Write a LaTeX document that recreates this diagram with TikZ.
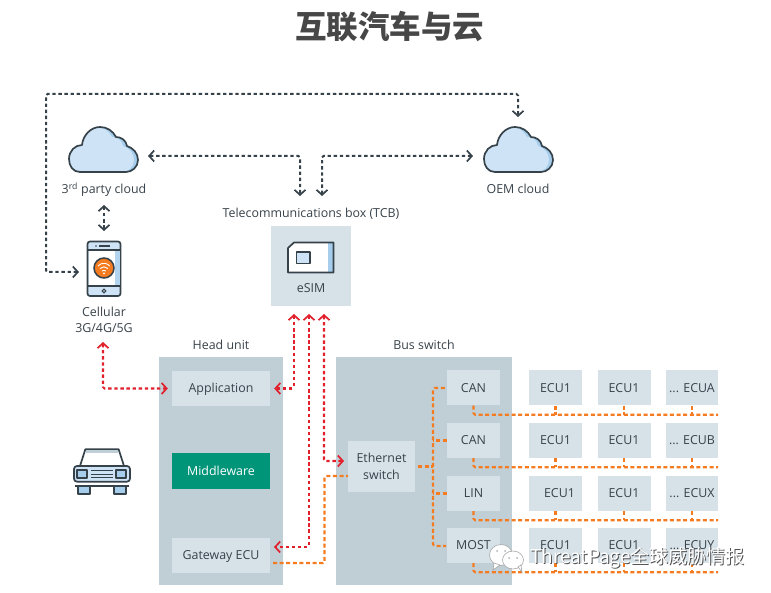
\documentclass[tikz,border=0pt]{standalone}
\usepackage{fontspec}
\setmainfont{Open Sans}
\newfontfamily\cjkfont{Noto Sans CJK SC}
\usetikzlibrary{arrows.meta,calc}
\definecolor{ink}{HTML}{36424A}
\definecolor{txt}{HTML}{38424A}
\definecolor{redline}{HTML}{E2202C}
\definecolor{orangeline}{HTML}{F47B20}
\definecolor{boxlight}{HTML}{D6E1E8}
\definecolor{boxdark}{HTML}{C0CFD6}
\definecolor{teal}{HTML}{009479}
\definecolor{skyfill}{HTML}{CFE3F6}
\definecolor{skydark}{HTML}{A6CEEC}
\tikzset{
  x=1pt,y=-1pt,
  lab/.style={font=\fontsize{12.4}{16.5}\selectfont,text=txt,align=center,inner sep=0},
  lightbox/.style={fill=boxlight,draw=none,inner sep=0,font=\fontsize{12.4}{16.5}\selectfont,text=txt,align=center,text height=11pt,text depth=3pt},
  panel/.style={fill=boxdark,draw=none,inner sep=0},
  chev/.tip={Straight Barb[length=5pt,width=11pt,line width=1.7pt]},
  conn/.style={line width=2pt,dash pattern=on 3.4pt off 2.7pt,rounded corners=1.5pt},
  blackline/.style={conn,draw=ink},
  redconn/.style={conn,draw=redline,line width=2.1pt},
  orangeconn/.style={conn,draw=orangeline,line width=2.1pt,dash pattern=on 4pt off 2.6pt},
  outline/.style={draw=ink,line width=1.7pt,line join=round},
}
\newcommand{\dd}{...}
\newcommand{\cloudpath}{(11,45) .. controls (4,45) and (0,39) .. (0,32) .. controls (0,24) and (6,18) .. (13,18) .. controls (14,8) and (22,0) .. (31,0) .. controls (38,0) and (44,4) .. (47,10) .. controls (52,10) and (57,13) .. (58,19) .. controls (64,21) and (69,26) .. (69,33) .. controls (69,40) and (63,45) .. (57,45) -- cycle}
\newcommand{\drawcloud}[2]{%
  \begin{scope}[shift={(#1,#2)}]
    \begin{scope}
      \clip \cloudpath;
      \fill[skydark] (-1,-1) rectangle (71,47);
      \begin{scope}[shift={(-4,0)}]
        \fill[skyfill] \cloudpath;
      \end{scope}
    \end{scope}
    \draw[outline] \cloudpath;
  \end{scope}}
\begin{document}
\begin{tikzpicture}
\useasboundingbox (0,0) rectangle (771,593);
\node[inner sep=0,text=black!72] (title) at (389.5,27) {\cjkfont\bfseries\fontsize{31.5}{33}\selectfont 互联汽车与云};

% clouds
\drawcloud{69}{127}
\drawcloud{484}{127}
\node[lab] (cloudA) at (104,189.5) {3\textsuperscript{rd} party cloud};
\node[lab] (cloudB) at (518,189) {OEM cloud};

% phone
\draw[outline,fill=skyfill,rounded corners=2.5pt] (87.5,241.5) rectangle (120.5,296);
\fill[white] (88.5,250) rectangle (119.5,286);
\fill[skydark!70!skyfill] (115,250) rectangle (119.5,286);
\draw[ink,line width=1.3pt] (88,250) -- (120,250) (88,286) -- (120,286);
\draw[ink,line width=1.2pt] (99,246) -- (110,246);
\fill[ink] (96,246) circle (.8);
\draw[ink,line width=1.1pt,fill=skyfill] (104,291) circle (1.9);
\node[draw=ink,line width=1.5pt,fill=orangeline,circle,minimum size=20pt,inner sep=0] (wifi) at (104,268) {};
\draw[white,line width=.9pt] (98,266) arc[start angle=140,end angle=40,radius=7.6pt]
  (100,268.5) arc[start angle=135,end angle=45,radius=5.6pt]
  (102,271) arc[start angle=130,end angle=50,radius=3pt];
\fill[white] (104,273.5) circle (1);
\node[lab] (cell) at (104,320) {Cellular\\3G/4G/5G};

% TCB
\node[lab] (tcblab) at (311,214) {Telecommunications box (TCB)};
\node[lightbox,minimum width=80pt,minimum height=80pt] (tcb) at (311,266) {};
\fill[white] (294,242.5) -- (333.5,242.5) -- (333.5,272.5) -- (288,272.5) -- (288,248) -- cycle;
\fill[skydark] (328,242.5) rectangle (333.5,272.5);
\draw[outline] (294,242.5) -- (333.5,242.5) -- (333.5,272.5) -- (288,272.5) -- (288,248) -- cycle;
\draw[outline,fill=skyfill] (296.5,252) rectangle (310,263.5);
\node[lab] (esim) at (311,288.5) {eSIM};

% panels
\node[lab] (headlab) at (221,345) {Head unit};
\node[lab] (buslab) at (424,345) {Bus switch};
\node[panel,minimum width=124pt,minimum height=228pt] (head) at (221,471) {};
\node[panel,minimum width=176pt,minimum height=228pt] (bus) at (424,471) {};
\node[lightbox,minimum width=98pt,minimum height=35pt] (app) at (221,388.5) {Application};
\node[lightbox,minimum width=98pt,minimum height=36pt,fill=teal,text=white] (mid) at (221,471) {Middleware};
\node[lightbox,minimum width=98pt,minimum height=35pt] (gw) at (221,555.5) {Gateway ECU};
\node[lightbox,minimum width=67pt,minimum height=51pt,text height={},text depth={}] (eth) at (381.5,466.5) {Ethernet\\switch};
\node[lightbox,minimum width=53pt,minimum height=35pt] (can1) at (473.5,388) {CAN};
\node[lightbox,minimum width=53pt,minimum height=35pt] (can2) at (473.5,440.5) {CAN};
\node[lightbox,minimum width=53pt,minimum height=35pt] (lin) at (473.5,493.5) {LIN};
\node[lightbox,minimum width=53pt,minimum height=35pt] (most) at (473.5,545.5) {MOST};

% ECU grid
\foreach \r/\y/\first/\last in {1/388/ECU1/\dd{} ECUA,2/440.5/ECU1/\dd{} ECUB,3/493.5/\hspace{8pt}ECU1/\dd{} ECUX,4/545.5/ECU1/\dd{} ECUY}{
  \node[lightbox,minimum width=53pt,minimum height=35pt] (e\r a) at (555.5,\y) {\first};
  \node[lightbox,minimum width=53pt,minimum height=35pt] (e\r b) at (624,\y) {ECU1};
  \node[lightbox,minimum width=52pt,minimum height=35pt] (e\r c) at (692,\y) {\last};
}

% car
\begin{scope}[shift={(60,335)},scale=1/3]
  \draw[outline,fill=white] (60,393) -- (76,343) -- (176,343) -- (192,393);
  \fill[boxdark] (78,345) rectangle (174,353);
  \draw[outline,fill=skyfill,rounded corners=3pt] (42,393) rectangle (210,440);
  \draw[outline,fill=skydark] (52,405) rectangle (82,430);
  \draw[outline,fill=skydark] (168,405) rectangle (198,430);
  \draw[ink,line width=1.3pt] (92,407) -- (160,407) (92,418) -- (160,418) (92,428) -- (160,428);
  \draw[outline] (45,452) -- (207,452);
  \draw[outline,fill=skydark] (53,452) rectangle (90,476);
  \draw[outline,fill=skydark] (162,452) rectangle (198,476);
\end{scope}

% black connectors
\coordinate (cloudAend) at (148,156);
\coordinate (tcbA) at (300,196);
\coordinate (tcbB) at (322,196);
\coordinate (cloudBend) at (473,156);
\coordinate (oemtop) at (518,117);
\coordinate (phoneL) at (79,272);
\coordinate (phoneT) at (104,231);
\coordinate (cloudAlow) at (104,205);
\draw[blackline,chev-chev] (cloudAend) -| (tcbA);
\draw[blackline,chev-chev] (tcbB) |- (cloudBend);
\draw[blackline,chev-chev] (phoneL) -- (46,272) -- (46,94) -- (518,94) -- (oemtop);
\draw[blackline,chev-chev] (cloudAlow) -- (phoneT);

% red connectors
\coordinate (cellTip) at (103,342);
\coordinate (tipA) at (294,314);
\coordinate (tipB) at (309,314);
\coordinate (tipC) at (324,314);
\coordinate (ethTip) at (344,461);
\draw[redconn,chev-chev] (cellTip) |- ([xshift=-4pt]app.west);
\draw[redconn,chev-chev] (tipA) |- ([xshift=4pt]app.east);
\draw[redconn,chev-chev] (tipB) -- (309,547) -- (274,547);
\draw[redconn,chev-chev] (tipC) |- (ethTip);

% orange connectors
\draw[orangeconn] (273,563) -- (324.5,563) -- (324.5,476) -- (348,476);
\draw[orangeconn] ([xshift=3pt]eth.east) -- (433,466.5);
\draw[orangeconn] ([xshift=-2pt]can1.west) -- (433,388) -- (433,546) -- (446,546);
\draw[orangeconn] (can2.west) -- (433,440.5);
\draw[orangeconn] (lin.west) -- (433,493.5);
\foreach \src/\r in {can1/1,can2/2,lin/3,most/4}{
  \draw[orangeconn] (\src.south) |- ([yshift=-9pt]e\r c.south east);
  \draw[orangeconn] (e\r a.south) -- ++(0,9);
  \draw[orangeconn] (e\r b.south) -- ++(0,9);
  \draw[orangeconn] (e\r c.south) -- ++(0,9);
}

% watermark
\fill[white,draw=black!35,line width=.6pt] (501,555) ellipse (11.5 and 10.5);
\fill[white,draw=black!35,line width=.6pt] (494,563) -- (493,570) -- (500,565) -- cycle;
\fill[white,draw=black!35,line width=.6pt] (513,560) ellipse (10.5 and 9);
\fill[white,draw=black!35,line width=.6pt] (518,567) -- (522,572) -- (521,565) -- cycle;
\fill[black!30] (497,551) circle (1) (505,551) circle (1) (509,558) circle (1) (517,558) circle (1);
\node[inner sep=0,anchor=west,text=black!68] (markshadow) at (531,558.5) {\cjkfont\fontsize{19}{20}\selectfont ThreatPage全球威胁情报};
\node[inner sep=0,anchor=west,text=white] (mark) at (530,557.5) {\cjkfont\fontsize{19}{20}\selectfont ThreatPage全球威胁情报};
\end{tikzpicture}
\end{document}
